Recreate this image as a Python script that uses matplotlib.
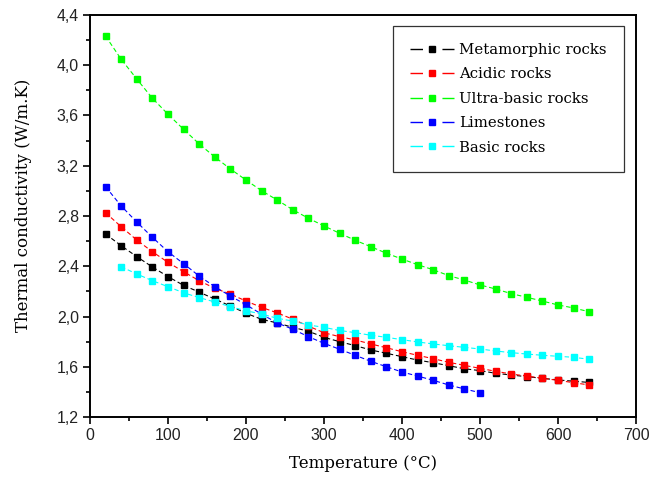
import matplotlib
matplotlib.use("Agg")
import matplotlib.pyplot as plt
from matplotlib.lines import Line2D
from matplotlib.ticker import MultipleLocator, FuncFormatter
import numpy as np

# temperatures (°C)
temp_full = np.arange(20, 641, 20)
temp_lime = np.arange(20, 501, 20)
temp_basic = np.arange(40, 641, 20)

# thermal conductivity (W/m.K)
metamorphic = [2.657, 2.564, 2.477, 2.395, 2.318, 2.249, 2.195, 2.14, 2.085, 2.027,
               1.979, 1.95, 1.915, 1.884, 1.836, 1.801, 1.77, 1.735, 1.709, 1.682,
               1.655, 1.634, 1.61, 1.586, 1.571, 1.55, 1.536, 1.523, 1.51, 1.497,
               1.487, 1.477]
acidic = [2.826, 2.715, 2.609, 2.516, 2.432, 2.357, 2.286, 2.225, 2.18, 2.124,
          2.074, 2.03, 1.98, 1.925, 1.872, 1.841, 1.815, 1.783, 1.753, 1.721,
          1.693, 1.666, 1.637, 1.613, 1.589, 1.566, 1.544, 1.528, 1.51, 1.494,
          1.475, 1.457]
ultrabasic = [4.23, 4.046, 3.889, 3.736, 3.609, 3.489, 3.373, 3.269, 3.174, 3.086,
              3.001, 2.927, 2.850, 2.782, 2.721, 2.663, 2.607, 2.556, 2.504, 2.458,
              2.413, 2.373, 2.326, 2.291, 2.252, 2.220, 2.183, 2.154, 2.124, 2.093,
              2.069, 2.039]
limestones = [3.033, 2.88, 2.752, 2.631, 2.516, 2.421, 2.323, 2.238, 2.164, 2.095,
              2.02, 1.95, 1.90, 1.841, 1.788, 1.741, 1.693, 1.645, 1.602, 1.56,
              1.528, 1.494, 1.457, 1.425, 1.396]
basic = [2.397, 2.339, 2.286, 2.238, 2.19, 2.151, 2.117, 2.079, 2.047, 2.021,
         1.987, 1.965, 1.934, 1.915, 1.89, 1.873, 1.852, 1.836, 1.817, 1.799,
         1.783, 1.769, 1.756, 1.743, 1.727, 1.714, 1.703, 1.693, 1.685, 1.677,
         1.661]

series = [
    ("Metamorphic rocks", temp_full, metamorphic, "#000000"),
    ("Acidic rocks", temp_full, acidic, "#ff0000"),
    ("Ultra-basic rocks", temp_full, ultrabasic, "#00ff00"),
    ("Limestones", temp_lime, limestones, "#0000ff"),
    ("Basic rocks", temp_basic, basic, "#00ffff"),
]

fig = plt.figure(figsize=(6.51, 4.84), dpi=100)
ax = fig.add_axes([0.1382, 0.1378, 0.977 - 0.1382, 0.9696 - 0.1378])

handles = []
for name, x, y, c in series:
    ax.plot(x, y, color=c, lw=0.8, dashes=(4, 2.5), marker="s", ms=5.0,
            mec=c, mfc=c)
    # legend key: dash, square, dash
    handles.append(Line2D([], [], color=c, lw=1.0, dashes=(9, 14, 10, 60),
                          marker="s", ms=4, mec=c, mfc=c))

ax.set_xlim(0, 700)
ax.set_ylim(1.2, 4.4)
ax.xaxis.set_major_locator(MultipleLocator(100))
ax.xaxis.set_minor_locator(MultipleLocator(50))
ax.yaxis.set_major_locator(MultipleLocator(0.4))
ax.yaxis.set_minor_locator(MultipleLocator(0.2))
ax.yaxis.set_major_formatter(FuncFormatter(lambda v, p: ("%.1f" % v).replace(".", ",")))

ax.tick_params(which="major", direction="out", length=5, width=1.2,
               labelsize=11.4, labelcolor="#222222", pad=3)
ax.tick_params(which="minor", direction="out", length=3.2, width=1.2)
ax.tick_params(top=False, right=False, which="both")
for lab in ax.get_xticklabels() + ax.get_yticklabels():
    lab.set_fontfamily("Liberation Sans")
for s in ax.spines.values():
    s.set_linewidth(1.4)

ax.set_xlabel("Temperature (°C)", family="DejaVu Serif", fontsize=12, labelpad=8)
ax.set_ylabel("Thermal conductivity (W/m.K)", family="DejaVu Serif", fontsize=12)
ax.yaxis.set_label_coords(-0.106, 0.527)

leg = ax.legend(handles, [s[0] for s in series], loc="upper right",
                bbox_to_anchor=(0.978, 0.972), borderaxespad=0,
                prop={"family": "DejaVu Serif", "size": 10.7},
                fancybox=False, edgecolor="#333333", framealpha=1,
                borderpad=1.15, labelspacing=0.7, handlelength=3.0,
                handletextpad=0.35)
leg.get_frame().set_linewidth(0.9)

fig.savefig("out.png", dpi=100)
